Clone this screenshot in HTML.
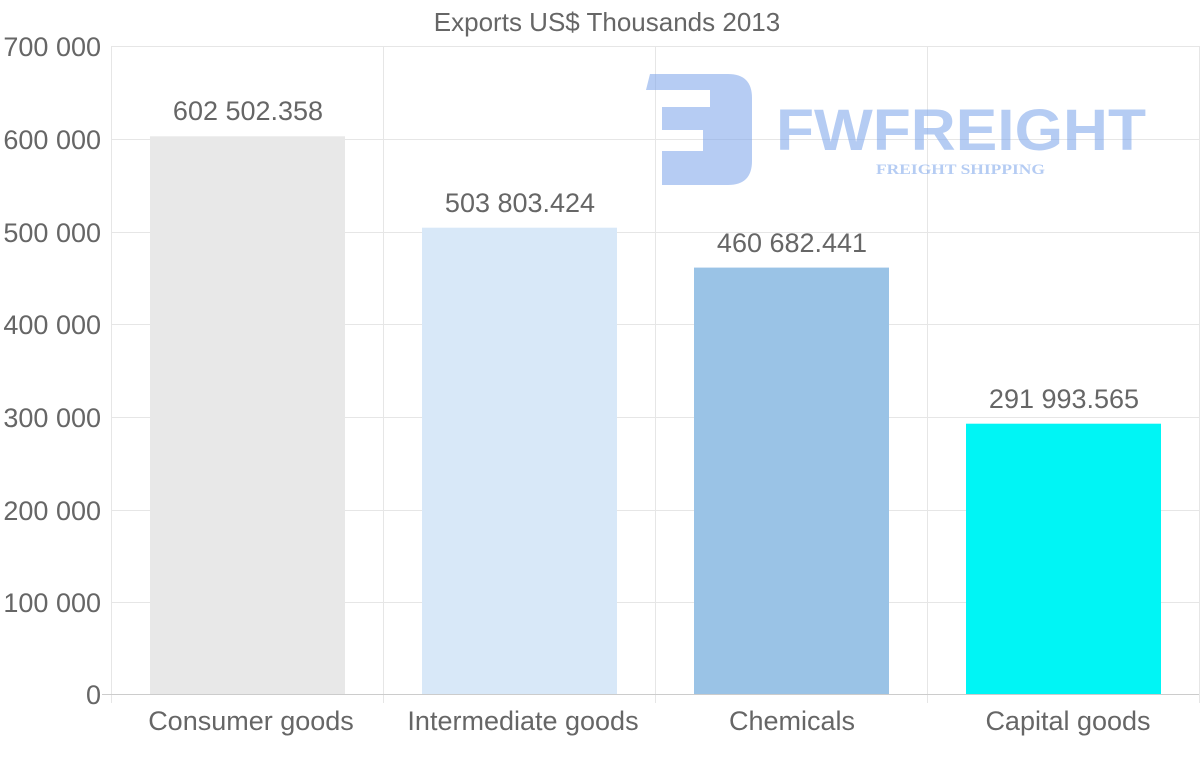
<!DOCTYPE html>
<html><head><style>body{margin:0;background:#fff}svg{display:block}</style></head><body>
<svg width="1200" height="763" xmlns="http://www.w3.org/2000/svg" font-family="Liberation Sans, sans-serif">
<g stroke="#e6e6e6" stroke-width="1">
<line x1="111" y1="46.5" x2="1199" y2="46.5"/><line x1="111" y1="139.5" x2="1199" y2="139.5"/><line x1="111" y1="232.5" x2="1199" y2="232.5"/><line x1="111" y1="324.5" x2="1199" y2="324.5"/><line x1="111" y1="417.5" x2="1199" y2="417.5"/><line x1="111" y1="510.5" x2="1199" y2="510.5"/><line x1="111" y1="602.5" x2="1199" y2="602.5"/>
<line x1="111.5" y1="46" x2="111.5" y2="703"/><line x1="383.5" y1="46" x2="383.5" y2="703"/><line x1="655.5" y1="46" x2="655.5" y2="703"/><line x1="927.5" y1="46" x2="927.5" y2="703"/><line x1="1199.5" y1="46" x2="1199.5" y2="703"/>
</g>
<line x1="102" y1="694.5" x2="1199" y2="694.5" stroke="#ccc"/>
<g opacity="0.55" fill="#7aa3ea">
<path d="M650 74 H728 Q752 74 752 98 V161 Q752 185 728 185 H662 V151 H703 V130 H662 V107 H710 V90 H646 Z"/>
<text x="776" y="150" font-size="58" font-weight="bold" textLength="370" lengthAdjust="spacingAndGlyphs">FWFREIGHT</text>
<text x="876" y="174" font-size="15" font-weight="bold" font-family="Liberation Serif, serif" textLength="169" lengthAdjust="spacingAndGlyphs">FREIGHT SHIPPING</text>
</g>
<rect x="150" y="136.3" width="195" height="557.7" fill="#e8e8e8"/>
<rect x="422" y="227.7" width="195" height="466.3" fill="#d8e8f8"/>
<rect x="694" y="267.6" width="195" height="426.4" fill="#9ac3e6"/>
<rect x="966" y="423.7" width="195" height="270.3" fill="#00f5f5"/>
<g fill="#666" font-size="27" text-anchor="middle">
<text x="607" y="31" font-size="26">Exports US$ Thousands 2013</text>
<text x="248" y="120">602 502.358</text>
<text x="520" y="212">503 803.424</text>
<text x="792" y="252">460 682.441</text>
<text x="1064" y="408">291 993.565</text>
<text x="251" y="730">Consumer goods</text>
<text x="523" y="730">Intermediate goods</text>
<text x="792" y="730">Chemicals</text>
<text x="1068" y="730">Capital goods</text>
</g>
<g fill="#666" font-size="27" text-anchor="end">
<text x="101" y="56">700 000</text><text x="101" y="149">600 000</text><text x="101" y="242">500 000</text><text x="101" y="334">400 000</text><text x="101" y="427">300 000</text><text x="101" y="520">200 000</text><text x="101" y="612">100 000</text><text x="101" y="704">0</text>
</g>
</svg>
</body></html>
